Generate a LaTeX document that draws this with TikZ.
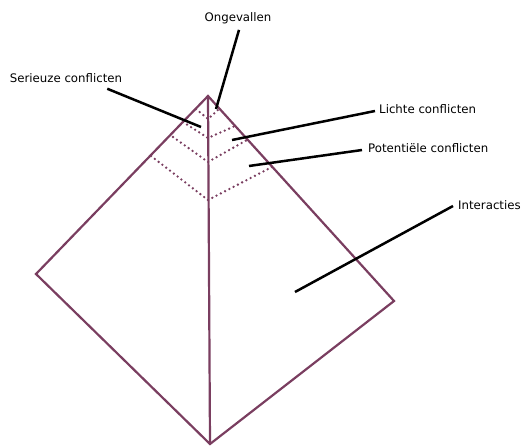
\documentclass[tikz,border=0pt]{standalone}
\usepackage{fontspec}
\setmainfont{DejaVu Sans}
\definecolor{pyr}{RGB}{122,62,96}
\begin{document}
\begin{tikzpicture}[x=1bp,y=-1bp,
	edge/.style={pyr,line width=2.2bp,line join=miter},
	layer/.style={pyr,line width=2.6bp,dash pattern=on 0bp off 4.8bp,line cap=round},
	callout/.style={black,line width=2.5bp},
	lbl/.style={font=\fontsize{11.8}{14}\selectfont,inner sep=1bp}]
	\useasboundingbox (0,0) rectangle (525,447);
	\coordinate (top) at (208,96);
	\coordinate (left) at (36,274);
	\coordinate (right) at (394,301);
	\coordinate (bottom) at (210,444);
	\draw[edge] (top) -- (left) -- (bottom) -- (right) -- cycle;
	\draw[edge] (top) -- (bottom);
	\foreach \xl/\yl/\ym/\xr/\yr in {196/109/119/219/109,183/122/138/235/126,173/137/162/247/140,151/156/200/272/167}
		\draw[layer] (\xl,\yl) -- (208,\ym) -- (\xr,\yr);
	\node[lbl] (ong) at (238,18) {Ongevallen};
	\node[lbl] (ser) at (66,78) {Serieuze conflicten};
	\node[lbl,anchor=west] (lic) at (378,109) {Lichte conflicten};
	\node[lbl,anchor=west] (pot) at (367,148) {Potentiële conflicten};
	\node[lbl,anchor=west] (int) at (457,205) {Interacties};
	\coordinate (pong) at (216,109);
	\coordinate (pser) at (201,127);
	\coordinate (plic) at (232,140);
	\coordinate (ppot) at (249,166);
	\coordinate (pint) at (295,292);
	\draw[callout] ([xshift=1bp,yshift=-5bp]ong.south) -- (pong);
	\draw[callout] ([xshift=-16bp,yshift=-5bp]ser.south east) -- (pser);
	\draw[callout] ([xshift=-3bp,yshift=-2bp]lic.west) -- (plic);
	\draw[callout] ([xshift=-5bp,yshift=-2bp]pot.west) -- (ppot);
	\draw[callout] ([xshift=-4bp,yshift=-1bp]int.west) -- (pint);
\end{tikzpicture}
\end{document}
